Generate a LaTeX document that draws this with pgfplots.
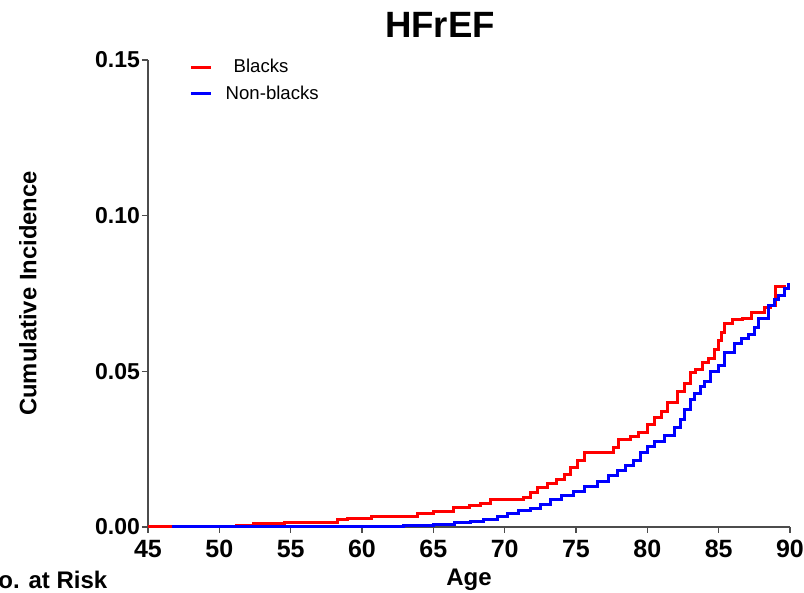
\documentclass[border=0pt]{standalone}
\usepackage{pgfplots}
\pgfplotsset{compat=1.18}
\usepackage{fontspec}
\setmainfont{Liberation Sans}
\definecolor{kmred}{RGB}{255,0,0}
\definecolor{kmblue}{RGB}{0,0,255}
\begin{document}
\begin{tikzpicture}
\useasboundingbox (-74pt,-33pt) rectangle (328pt,263.5pt);
\begin{axis}[
  scale only axis,
  width=321pt, height=233.5pt,
  at={(0,0)}, anchor=south west,
  xmin=45, xmax=90, ymin=0, ymax=0.15,
  axis x line*=bottom, axis y line*=left,
  axis line style={draw=black!70, line width=0.6pt},
  every tick/.style={draw=black!70, line width=0.6pt},
  tick align=outside, major tick length=3pt,
  xtick={45,50,...,90},
  ytick={0,0.05,0.10,0.15},
  minor tick num=0,
  /pgf/number format/assume math mode=true,
  yticklabel style={/pgf/number format/fixed, /pgf/number format/fixed zerofill, /pgf/number format/precision=2, font=\fontsize{11.5}{13}\selectfont\bfseries, xshift=2.5pt},
  xticklabel style={font=\fontsize{12.5}{14}\selectfont\bfseries},
  scaled y ticks=false,
  xlabel={Age},
  xlabel style={font=\fontsize{12}{14}\selectfont\bfseries, at={(axis description cs:0.5,-0.112)}, anchor=center},
  ylabel={Cumulative Incidence},
  ylabel style={font=\fontsize{11.9}{14}\selectfont\bfseries, at={(axis description cs:-0.187,0.5)}, anchor=center, rotate=0},
  title={HFrEF},
  title style={font=\fontsize{18.3}{21}\selectfont\bfseries, at={(axis description cs:0.455,1.075)}, anchor=center, yshift=-6pt},
  clip=false,
  legend style={at={(0.055,1.02)}, anchor=north west, draw=none, fill=none, font=\fontsize{9.3}{11}\selectfont, row sep=1pt, legend cell align=left, nodes={inner xsep=6.5pt}},
  legend image code/.code={\draw[line width=1.5pt] (0pt,0pt) -- (10pt,0pt);},
]
\addplot[const plot, color=kmred, line width=1.5pt] coordinates {
(45,0) (46.7,0) (48.5,0.0003) (51.2,0.0006) (52.4,0.0012) (54.6,0.0015)
(58.3,0.0025) (59.0,0.0028) (60.7,0.0035) (63.9,0.0044) (65.0,0.0051)
(66.4,0.0062) (67.5,0.0068) (68.3,0.0076) (69.0,0.0087) (71.3,0.0095)
(71.8,0.0110) (72.3,0.0128) (73.0,0.0140) (73.6,0.0152) (74.2,0.0170)
(74.6,0.0190) (75.1,0.0215) (75.6,0.0238) (77.6,0.0254) (78.0,0.0280)
(78.8,0.0290) (79.4,0.0305) (80.0,0.0330) (80.5,0.0353) (81.0,0.0370)
(81.4,0.0400) (82.1,0.0434) (82.6,0.0460) (83.0,0.0495) (83.4,0.0505)
(83.9,0.0527) (84.3,0.0540) (84.7,0.0570) (85.0,0.0600) (85.2,0.0626)
(85.4,0.0655) (86.0,0.0665) (86.7,0.0670) (87.3,0.0690) (88.2,0.0704)
(88.6,0.0710) (89.0,0.0771) (89.7,0.0771)
};
\addlegendentry{\hspace{4pt}Blacks}
\addplot[const plot, color=kmblue, line width=1.5pt] coordinates {
(46.7,0) (55,0.0001) (60,0.0002) (62.9,0.0004) (65.0,0.0009) (66.5,0.0013)
(67.6,0.0018) (68.5,0.0025) (69.5,0.0035) (70.2,0.0044) (71.0,0.0052)
(71.8,0.0060) (72.5,0.0072) (73.2,0.0087) (74.0,0.0100) (74.8,0.0113)
(75.6,0.0130) (76.5,0.0146) (77.3,0.0165) (77.9,0.0183) (78.5,0.0198)
(79.0,0.0215) (79.5,0.0240) (80.0,0.0260) (80.5,0.0275) (81.2,0.0295)
(81.9,0.0320) (82.3,0.0345) (82.6,0.0376) (83.0,0.0410) (83.3,0.0430)
(83.7,0.0450) (84.0,0.0466) (84.4,0.0500) (85.0,0.0520) (85.4,0.0560)
(86.1,0.0590) (86.6,0.0605) (87.1,0.0617) (87.5,0.0640) (87.8,0.0670)
(88.5,0.0713) (88.9,0.0730) (89.2,0.0745) (89.6,0.0765) (89.9,0.0784)
};
\addlegendentry{Non-blacks}
\end{axis}
\node[anchor=base west, font=\fontsize{12}{14}\selectfont\bfseries] at (-87pt,-31pt) {No. at Risk};
\end{tikzpicture}
\end{document}
